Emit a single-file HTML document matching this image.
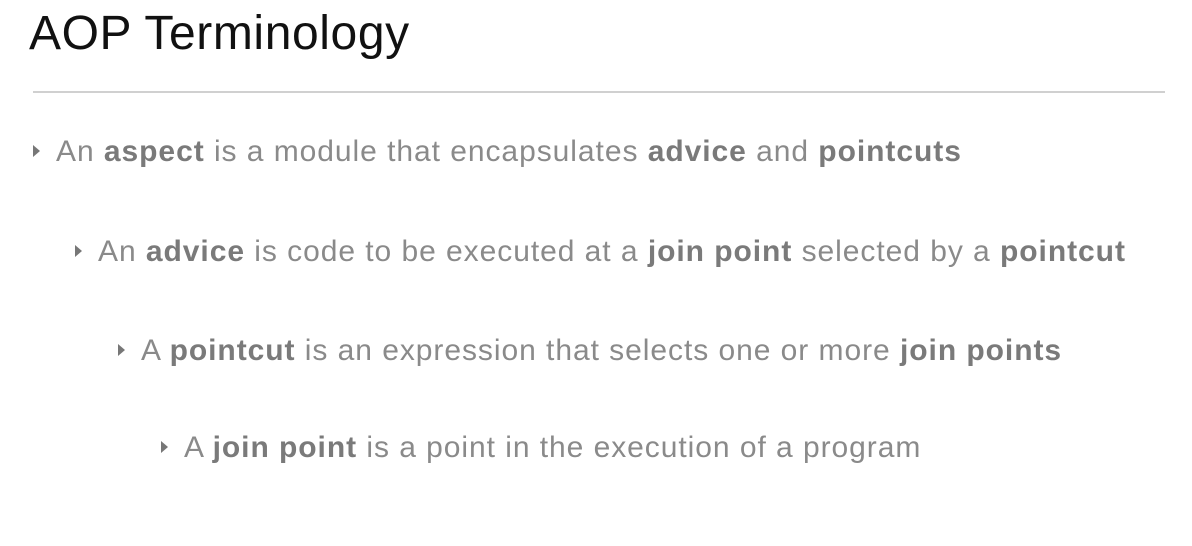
<!DOCTYPE html>
<html><head><meta charset="utf-8"><style>
body{margin:0;width:1192px;height:546px;background:#fff;position:relative;overflow:hidden;font-family:"Liberation Sans",sans-serif}
.t{position:absolute;left:29px;top:6px;font-size:48px;color:#111;white-space:nowrap;letter-spacing:0.6px}
.hr{position:absolute;left:33px;top:91px;width:1132px;height:2px;background:#d0d0d0}
.b{position:absolute;font-size:30px;color:#8a8a8a;white-space:nowrap;line-height:34px;letter-spacing:0.95px}
.b b{color:#7a7a7a}
.b .tri{position:absolute;left:-23px;top:10px;width:0;height:0;border-left:7px solid #777;border-top:6px solid transparent;border-bottom:6px solid transparent}
</style></head><body>
<div class="t">AOP Terminology</div>
<div class="hr"></div>
<div class="b" style="left:56px;top:135px"><span class="tri"></span>An <b>aspect</b> is a module that encapsulates <b>advice</b> and <b>pointcuts</b></div>
<div class="b" style="left:98px;top:235px"><span class="tri"></span>An <b>advice</b> is code to be executed at a <b>join point</b> selected by a <b>pointcut</b></div>
<div class="b" style="left:141px;top:334px"><span class="tri"></span>A <b>pointcut</b> is an expression that selects one or more <b>join points</b></div>
<div class="b" style="left:184px;top:431px"><span class="tri"></span>A <b>join point</b> is a point in the execution of a program</div>
</body></html>
